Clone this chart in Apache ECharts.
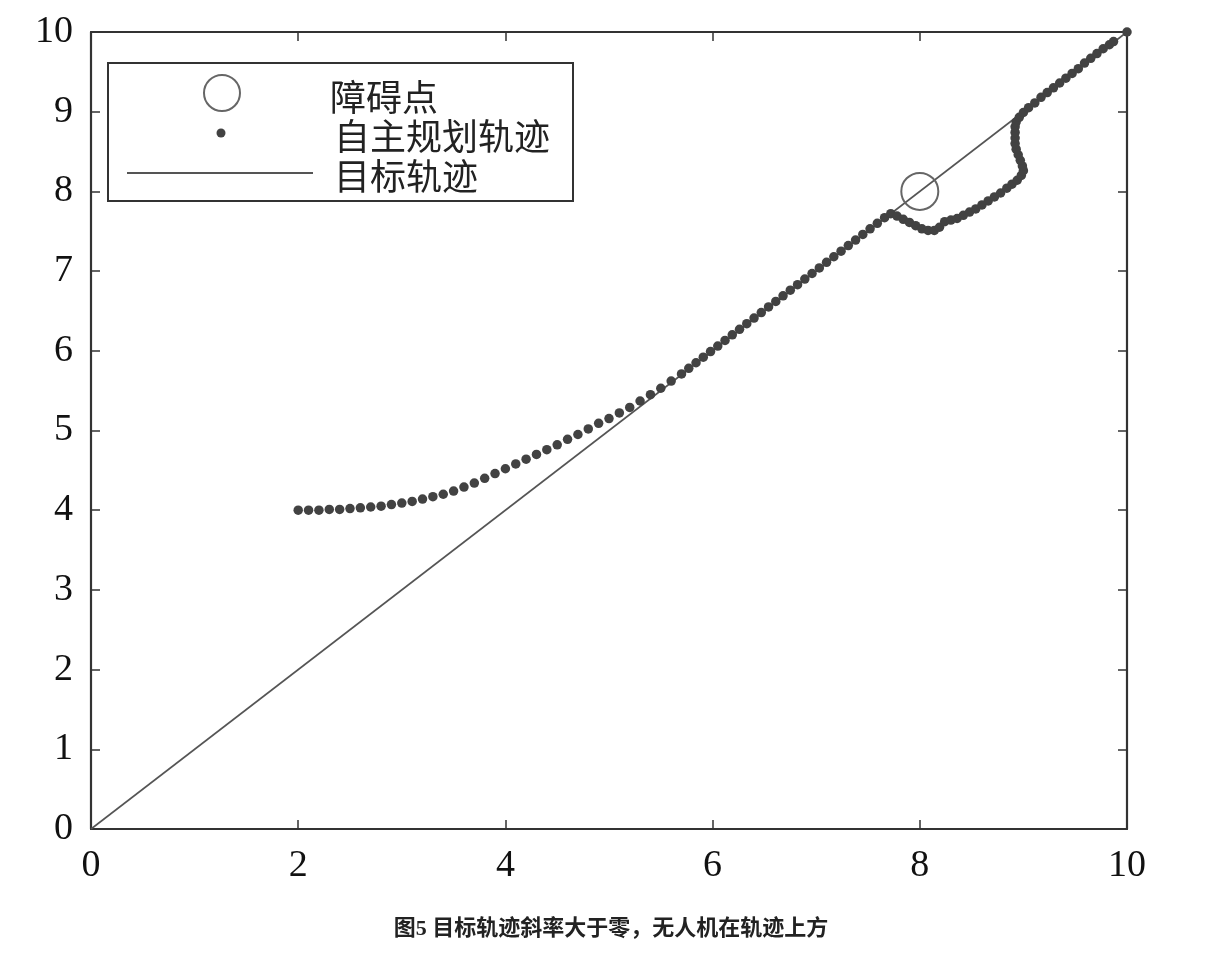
<!DOCTYPE html>
<html>
<head>
<meta charset="utf-8">
<script src="https://cdn.jsdelivr.net/npm/echarts@6/dist/echarts.min.js"></script>
<style>
html,body{margin:0;padding:0;background:#fff;}
#chart{width:1222px;height:953px;}
</style>
</head>
<body>
<div id="chart"></div>
<script>
// ---- data ----
const xTicks = [0, 2, 4, 6, 8, 10];
const yTicks = [0, 1, 2, 3, 4, 5, 6, 7, 8, 9, 10];
const targetPath = [[0, 0], [10, 10]];
const obstacle = [[8, 8]];
const plannedPath = [
  [2.0, 4.00], [2.1, 4.00], [2.2, 4.00], [2.3, 4.01], [2.4, 4.01], [2.5, 4.02],
  [2.6, 4.03], [2.7, 4.04], [2.8, 4.05], [2.9, 4.07], [3.0, 4.09], [3.1, 4.11],
  [3.2, 4.14], [3.3, 4.17], [3.4, 4.20], [3.5, 4.24], [3.6, 4.29], [3.7, 4.34],
  [3.8, 4.40], [3.9, 4.46], [4.0, 4.52], [4.1, 4.58], [4.2, 4.64], [4.3, 4.70],
  [4.4, 4.76], [4.5, 4.82], [4.6, 4.89], [4.7, 4.95], [4.8, 5.02], [4.9, 5.09],
  [5.0, 5.15], [5.1, 5.22], [5.2, 5.29], [5.3, 5.37], [5.4, 5.45], [5.5, 5.53],
  [5.6, 5.62], [5.7, 5.71],
  [5.77, 5.78], [5.84, 5.85], [5.91, 5.92], [5.98, 5.99], [6.05, 6.06], [6.12, 6.13],
  [6.19, 6.20], [6.26, 6.27], [6.33, 6.34], [6.40, 6.41], [6.47, 6.48], [6.54, 6.55],
  [6.61, 6.62], [6.68, 6.69], [6.75, 6.76], [6.82, 6.83], [6.89, 6.90], [6.96, 6.97],
  [7.03, 7.04], [7.10, 7.11], [7.17, 7.18], [7.24, 7.25], [7.31, 7.32], [7.38, 7.39],
  [7.45, 7.46], [7.52, 7.53], [7.59, 7.60], [7.66, 7.67], [7.72, 7.72],
  [7.78, 7.69], [7.84, 7.65], [7.90, 7.61], [7.96, 7.57], [8.02, 7.53],
  [8.08, 7.51], [8.14, 7.51], [8.19, 7.55], [8.24, 7.62], [8.30, 7.64], [8.36, 7.66],
  [8.42, 7.70], [8.48, 7.74], [8.54, 7.78], [8.60, 7.83], [8.66, 7.88], [8.72, 7.93],
  [8.78, 7.98], [8.84, 8.04], [8.89, 8.09], [8.94, 8.14], [8.98, 8.20], [9.00, 8.26],
  [8.99, 8.32], [8.97, 8.39], [8.95, 8.46], [8.93, 8.53], [8.92, 8.60], [8.92, 8.67],
  [8.92, 8.74], [8.92, 8.81], [8.93, 8.87], [8.96, 8.93], [9.00, 8.99], [9.05, 9.05],
  [9.11, 9.11], [9.17, 9.18], [9.23, 9.24], [9.29, 9.30], [9.35, 9.36], [9.41, 9.42],
  [9.47, 9.48], [9.53, 9.54], [9.59, 9.61], [9.65, 9.67], [9.71, 9.73], [9.77, 9.79],
  [9.83, 9.84], [9.87, 9.88], [10.0, 10.0]
];
const legendNames = ['障碍点', '自主规划轨迹', '目标轨迹'];
const caption = '图5 目标轨迹斜率大于零，无人机在轨迹上方';

// ---- chart ----
const chart = echarts.init(document.getElementById('chart'), null, {renderer: 'canvas'});
const axisLine = {show: true, onZero: false, lineStyle: {color: '#333', width: 2.2}};
const tick = {show: true, inside: true, length: 9, lineStyle: {color: '#333', width: 1.5}};
const labelFont = {fontFamily: "'Liberation Serif', serif", fontSize: 38, color: '#111'};

const option = {
  animation: false,
  backgroundColor: '#fff',
  grid: {left: 91, right: 95, top: 32, bottom: 124, containLabel: false},
  xAxis: [
    {type: 'value', position: 'bottom', min: xTicks[0], max: xTicks[xTicks.length - 1], interval: 2,
     axisLine: axisLine, splitLine: {show: false}, axisTick: tick,
     axisLabel: Object.assign({margin: 18}, labelFont)},
    {type: 'value', position: 'top', min: 0, max: 10, interval: 2,
     axisLine: axisLine, splitLine: {show: false}, axisTick: tick,
     axisLabel: {show: false}}
  ],
  yAxis: [
    {type: 'value', position: 'left', min: yTicks[0], max: yTicks[yTicks.length - 1], interval: 1,
     axisLine: axisLine, splitLine: {show: false}, axisTick: tick,
     axisLabel: Object.assign({margin: 18}, labelFont)},
    {type: 'value', position: 'right', min: 0, max: 10, interval: 1,
     axisLine: axisLine, splitLine: {show: false}, axisTick: tick,
     axisLabel: {show: false}}
  ],
  series: [
    {name: legendNames[2], type: 'line', data: targetPath, symbol: 'none',
     lineStyle: {color: '#555', width: 1.6}, z: 2},
    {name: legendNames[1], type: 'scatter', data: plannedPath, symbol: 'circle', symbolSize: 9.5,
     itemStyle: {color: '#424242', opacity: 1}, z: 3},
    {name: legendNames[0], type: 'scatter', data: obstacle, symbol: 'circle', symbolSize: 37,
     itemStyle: {color: 'rgba(0,0,0,0)', borderColor: '#666', borderWidth: 2, opacity: 1}, z: 4}
  ],
  graphic: [
    {type: 'rect', shape: {x: 108, y: 63, width: 465, height: 138},
     style: {fill: '#fff', stroke: '#333', lineWidth: 2}, z: 10},
    {type: 'circle', shape: {cx: 222, cy: 93, r: 18},
     style: {fill: 'none', stroke: '#666', lineWidth: 2}, z: 11},
    {type: 'circle', shape: {cx: 221, cy: 133, r: 4.5},
     style: {fill: '#424242'}, z: 11},
    {type: 'line', shape: {x1: 127, y1: 173, x2: 313, y2: 173},
     style: {stroke: '#555', lineWidth: 1.8}, z: 11},
    {type: 'text', left: 330, top: 79, z: 11,
     style: {text: legendNames[0], font: "36px 'Noto Sans CJK SC'", fill: '#222'}},
    {type: 'text', left: 334, top: 118, z: 11,
     style: {text: legendNames[1], font: "36px 'Noto Sans CJK SC'", fill: '#222'}},
    {type: 'text', left: 334, top: 158, z: 11,
     style: {text: legendNames[2], font: "36px 'Noto Sans CJK SC'", fill: '#222'}},
    {type: 'text', left: 'center', top: 918, z: 11,
     style: {text: caption, font: "bold 22px 'Liberation Serif', 'Noto Sans CJK SC'", fill: '#222'}}
  ]
};
chart.setOption(option);
</script>
</body>
</html>
